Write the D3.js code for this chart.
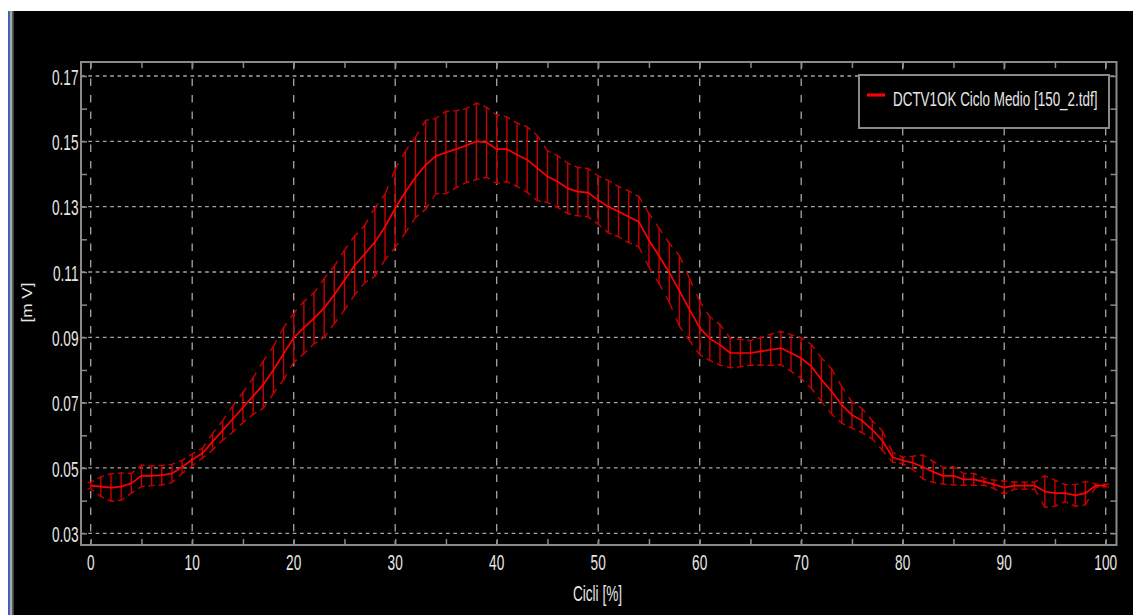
<!DOCTYPE html>
<html>
<head>
<meta charset="utf-8">
<script src="https://cdn.jsdelivr.net/npm/d3@7"></script>
<style>
  html, body { margin: 0; padding: 0; background: #000; overflow: hidden; }
  svg { display: block; }
</style>
</head>
<body>
<svg id="chart" width="1133" height="615"></svg>
<script>
// Gait-cycle percentage (0..100 %), one sample per percent
const cyclePercent = d3.range(0, 101);

// Mean EMG amplitude [mV] at each percent of the cycle
const meanValues = [
  0.0446, 0.0443, 0.0440, 0.0443, 0.0453, 0.0476, 0.0476, 0.0478, 0.0483, 0.0503,
  0.0525, 0.0545, 0.0580, 0.0615, 0.0650, 0.0685, 0.0720, 0.0755, 0.0800, 0.0850,
  0.0898, 0.0930, 0.0958, 0.0990, 0.1030, 0.1075, 0.1120, 0.1155, 0.1192, 0.1238,
  0.1295, 0.1345, 0.1390, 0.1428, 0.1455, 0.1466, 0.1476, 0.1487, 0.1500, 0.1497,
  0.1476, 0.1476, 0.1459, 0.1444, 0.1418, 0.1392, 0.1377, 0.1356, 0.1346, 0.1343,
  0.1320, 0.1300, 0.1285, 0.1269, 0.1254, 0.1197, 0.1149, 0.1098, 0.1042, 0.0985,
  0.0929, 0.0896, 0.0877, 0.0852, 0.0852, 0.0852, 0.0857, 0.0862, 0.0867, 0.0852,
  0.0836, 0.0811, 0.0770, 0.0734, 0.0693, 0.0662, 0.0645, 0.0617, 0.0584, 0.0533,
  0.0523, 0.0516, 0.0503, 0.0488, 0.0476, 0.0476, 0.0465, 0.0465, 0.0458, 0.0450,
  0.0440, 0.0446, 0.0446, 0.0446, 0.0428, 0.0423, 0.0423, 0.0416, 0.0423, 0.0446,
  0.0446
];

// Standard deviation [mV] at each percent of the cycle
const sdValues = [
  0.0010, 0.0030, 0.0042, 0.0042, 0.0030, 0.0033, 0.0030, 0.0030, 0.0028, 0.0020,
  0.0018, 0.0015, 0.0025, 0.0030, 0.0040, 0.0046, 0.0056, 0.0072, 0.0072, 0.0080,
  0.0075, 0.0080, 0.0078, 0.0090, 0.0088, 0.0092, 0.0090, 0.0088, 0.0105, 0.0100,
  0.0120, 0.0125, 0.0123, 0.0136, 0.0115, 0.0126, 0.0118, 0.0113, 0.0117, 0.0107,
  0.0105, 0.0099, 0.0097, 0.0100, 0.0100, 0.0079, 0.0079, 0.0077, 0.0074, 0.0074,
  0.0074, 0.0080, 0.0077, 0.0079, 0.0077, 0.0082, 0.0085, 0.0090, 0.0108, 0.0095,
  0.0082, 0.0067, 0.0062, 0.0045, 0.0042, 0.0038, 0.0042, 0.0048, 0.0051, 0.0056,
  0.0063, 0.0067, 0.0067, 0.0069, 0.0056, 0.0040, 0.0037, 0.0028, 0.0030, 0.0015,
  0.0010, 0.0020, 0.0037, 0.0032, 0.0025, 0.0028, 0.0018, 0.0018, 0.0011, 0.0013,
  0.0020, 0.0011, 0.0011, 0.0011, 0.0048, 0.0040, 0.0026, 0.0033, 0.0036, 0.0005,
  0.0004
];

const xMajorTicks = [0, 10, 20, 30, 40, 50, 60, 70, 80, 90, 100];
const xMinorTicks = [5, 15, 25, 35, 45, 55, 65, 75, 85, 95];
const yMajorTicks = [0.03, 0.05, 0.07, 0.09, 0.11, 0.13, 0.15, 0.17];
const yMinorTicks = [0.04, 0.06, 0.08, 0.10, 0.12, 0.14, 0.16];

const seriesName = "DCTV1OK Ciclo Medio [150_2.tdf]";
const xTitle = "Cicli [%]";
const yTitle = "[m V]";

// ---------- layout ----------
const frame = { left: 81, right: 1116.5, top: 62, bottom: 545 };
const x = d3.scaleLinear().domain([0, 100]).range([90.7, 1105.7]);
const y = d3.scaleLinear().domain([0.03, 0.17]).range([533.3, 76]);

const FONT = "'Liberation Sans', Arial, Helvetica, sans-serif";
const SQUEEZE = 0.62;          // narrow display font
const TEXT_COLOR = "#e6e6e6";
const FRAME_COLOR = "#8a8a8a";
const GRID_COLOR = "#a6a6a6";

const svg = d3.select("#chart");

// window background and chrome
svg.append("rect").attr("width", 1133).attr("height", 615).attr("fill", "#000");
svg.append("rect").attr("x", 0).attr("y", 0).attr("width", 1133).attr("height", 11).attr("fill", "#fff");
svg.append("rect").attr("x", 0).attr("y", 0).attr("width", 8.3).attr("height", 615).attr("fill", "#fff");
svg.append("rect").attr("x", 8.3).attr("y", 11).attr("width", 1.3).attr("height", 604).attr("fill", "#2a63ff");
svg.append("rect").attr("x", 9.6).attr("y", 11).attr("width", 2.6).attr("height", 604).attr("fill", "#a9a9a9");
svg.append("rect").attr("x", 12.2).attr("y", 11).attr("width", 1.4).attr("height", 604).attr("fill", "#6a6a6a");

// ---------- grid ----------
const grid = svg.append("g");
grid.selectAll("line.h").data(yMajorTicks).join("line")
  .attr("x1", frame.left).attr("x2", frame.right)
  .attr("y1", d => y(d)).attr("y2", d => y(d))
  .attr("stroke", GRID_COLOR).attr("stroke-width", 1.3)
  .attr("stroke-dasharray", "3.7,3.6");
grid.selectAll("line.v").data(xMajorTicks).join("line")
  .attr("x1", d => x(d)).attr("x2", d => x(d))
  .attr("y1", frame.top).attr("y2", frame.bottom)
  .attr("stroke", GRID_COLOR).attr("stroke-width", 1.3)
  .attr("stroke-dasharray", "7.5,9");

// ---------- axes (ticks point inward) ----------
function styleAxis(g) {
  g.select(".domain").remove();
  g.selectAll(".tick line").attr("stroke", FRAME_COLOR).attr("stroke-width", 1.5);
}
const fmtY = d3.format(".2f");

svg.append("g").attr("transform", `translate(0,${frame.bottom})`)
  .call(d3.axisBottom(x).tickValues(xMajorTicks.concat(xMinorTicks)).tickSize(-6).tickFormat(""))
  .call(styleAxis);
svg.append("g").attr("transform", `translate(0,${frame.top})`)
  .call(d3.axisTop(x).tickValues(xMajorTicks.concat(xMinorTicks)).tickSize(-6).tickFormat(""))
  .call(styleAxis);
svg.append("g").attr("transform", `translate(${frame.left},0)`)
  .call(d3.axisLeft(y).tickValues(yMajorTicks.concat(yMinorTicks)).tickSize(-6).tickFormat(""))
  .call(styleAxis);
svg.append("g").attr("transform", `translate(${frame.right},0)`)
  .call(d3.axisRight(y).tickValues(yMajorTicks.concat(yMinorTicks)).tickSize(-6).tickFormat(""))
  .call(styleAxis);

// frame
svg.append("rect")
  .attr("x", frame.left).attr("y", frame.top)
  .attr("width", frame.right - frame.left).attr("height", frame.bottom - frame.top)
  .attr("fill", "none").attr("stroke", FRAME_COLOR).attr("stroke-width", 2);

// narrow text helper
function squeezedText(parent, tx, ty, str, anchor, size, sx) {
  return parent.append("text")
    .attr("transform", `translate(${tx},${ty}) scale(${sx || SQUEEZE},1)`)
    .attr("text-anchor", anchor)
    .attr("font-family", FONT).attr("font-size", size)
    .attr("fill", TEXT_COLOR)
    .text(str);
}
const labels = svg.append("g");
xMajorTicks.forEach(t => squeezedText(labels, x(t), 570, String(t), "middle", 22));
yMajorTicks.forEach(t => squeezedText(labels, 78.5, y(t) + 8.8, fmtY(t), "end", 22));

// axis titles
squeezedText(labels, 597.5, 601, xTitle, "middle", 22);
svg.append("text")
  .attr("transform", "translate(32,302.5) rotate(-90)")
  .attr("text-anchor", "middle")
  .attr("font-family", FONT).attr("font-size", 15)
  .attr("textLength", 40).attr("lengthAdjust", "spacingAndGlyphs")
  .attr("fill", TEXT_COLOR)
  .text(yTitle);

// ---------- series: mean ± SD ----------
const pts = cyclePercent.map((c, i) => ({ c, m: meanValues[i], s: sdValues[i] }));
const plot = svg.append("g");

// vertical SD bars
plot.selectAll("line.bar").data(pts).join("line")
  .attr("x1", d => x(d.c)).attr("x2", d => x(d.c))
  .attr("y1", d => y(d.m - d.s)).attr("y2", d => y(d.m + d.s))
  .attr("stroke", "#c80000").attr("stroke-width", 1.4);

// caps, oriented along the upper/lower envelopes
const capHalf = 3.2;
function capPath(i, sign) {
  const p = pts[i];
  const px = x(p.c), py = y(p.m + sign * p.s);
  const step = x(1) - x(0);
  const f = capHalf / step;
  const prev = pts[Math.max(0, i - 1)], next = pts[Math.min(pts.length - 1, i + 1)];
  const pyPrev = y(prev.m + sign * prev.s), pyNext = y(next.m + sign * next.s);
  const lx = px - capHalf, ly = i > 0 ? py + (pyPrev - py) * f : py;
  const rx = px + capHalf, ry = i < pts.length - 1 ? py + (pyNext - py) * f : py;
  return `M${lx},${ly}L${px},${py}L${rx},${ry}`;
}
plot.selectAll("path.capU").data(pts).join("path")
  .attr("d", (d, i) => capPath(i, 1))
  .attr("fill", "none").attr("stroke", "#c80000").attr("stroke-width", 1.4);
plot.selectAll("path.capL").data(pts).join("path")
  .attr("d", (d, i) => capPath(i, -1))
  .attr("fill", "none").attr("stroke", "#c80000").attr("stroke-width", 1.4);

// mean curve
plot.append("path")
  .datum(pts)
  .attr("d", d3.line().x(d => x(d.c)).y(d => y(d.m)))
  .attr("fill", "none").attr("stroke", "#ff0000").attr("stroke-width", 1.7);

// ---------- legend ----------
const legend = svg.append("g");
legend.append("rect")
  .attr("x", 859).attr("y", 75).attr("width", 250).attr("height", 53)
  .attr("fill", "#000").attr("stroke", FRAME_COLOR).attr("stroke-width", 2);
legend.append("line")
  .attr("x1", 867).attr("x2", 885).attr("y1", 95).attr("y2", 95)
  .attr("stroke", "#ff0000").attr("stroke-width", 3.2);
squeezedText(legend, 893, 106, seriesName, "start", 21, 0.64);
</script>
</body>
</html>
